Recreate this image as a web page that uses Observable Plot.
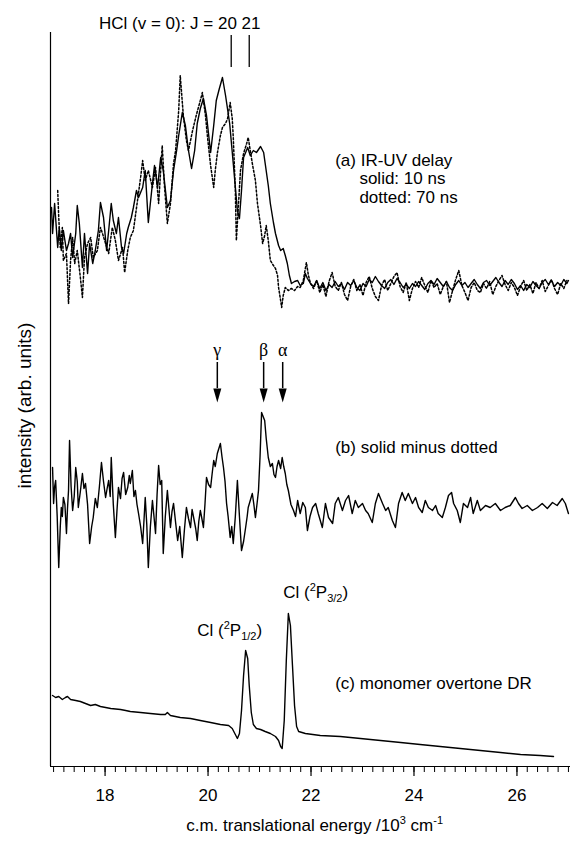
<!DOCTYPE html>
<html><head><meta charset="utf-8">
<script src="https://cdn.jsdelivr.net/npm/d3@7"></script>
<script src="https://cdn.jsdelivr.net/npm/@observablehq/plot@0.6"></script>
<style>body{margin:0;background:#fff}</style>
</head><body><div id="chart"></div>
<script>
// x: c.m. translational energy (10^3 cm^-1); y: intensity (arb. units), traces stacked
const solid10ns = [
[16.96,559],[16.98,533],[17.02,563],[17.08,519],[17.11,539],[17.15,516],[17.19,536],[17.25,516],[17.29,523],[17.33,533],[17.37,509],[17.43,533],[17.46,561],[17.50,543],[17.56,499],[17.60,533],[17.66,493],[17.70,523],[17.76,503],[17.81,516],[17.87,536],[17.91,564],[17.97,549],[18.03,516],[18.07,536],[18.12,563],[18.16,546],[18.22,533],[18.26,549],[18.32,519],[18.36,513],[18.42,533],[18.45,539],[18.51,549],[18.55,559],[18.61,576],[18.65,569],[18.73,579],[18.78,596],[18.84,544],[18.92,583],[18.96,601],[19.02,579],[19.08,609],[19.13,596],[19.21,559],[19.27,566],[19.33,596],[19.39,616],[19.43,631],[19.50,654],[19.56,641],[19.62,616],[19.68,598],[19.74,616],[19.79,643],[19.85,658],[19.91,668],[19.97,651],[20.05,614],[20.11,641],[20.16,666],[20.22,678],[20.28,689],[20.34,671],[20.42,643],[20.49,603],[20.57,556],[20.61,548],[20.65,576],[20.69,609],[20.77,619],[20.82,611],[20.88,616],[20.94,614],[21.02,620],[21.08,614],[21.11,603],[21.17,581],[21.21,563],[21.27,544],[21.31,533],[21.37,521],[21.41,516],[21.46,518],[21.50,511],[21.54,503],[21.58,491],[21.62,483],[21.68,485],[21.74,486],[21.79,481],[21.85,483],[21.89,493],[21.93,488],[21.99,483],
[22.05,480],[22.11,486],[22.17,478],[22.23,484],[22.29,476],[22.35,482],[22.41,479],[22.47,485],[22.53,480],[22.59,483],[22.65,477],[22.71,484],[22.77,481],[22.83,486],[22.89,479],[22.95,476],[23.01,483],[23.07,480],[23.13,487],[23.19,484],[23.25,490],[23.31,485],[23.37,481],[23.43,478],[23.49,484],[23.55,487],[23.61,482],[23.67,488],[23.73,484],[23.79,479],[23.85,482],[23.91,478],[23.97,483],[24.03,480],[24.09,485],[24.15,481],[24.21,477],[24.27,483],[24.33,486],[24.39,482],[24.45,488],[24.51,484],[24.57,480],[24.63,485],[24.69,479],[24.75,476],[24.81,482],[24.87,486],[24.93,481],[24.99,484],[25.05,479],[25.11,483],[25.17,487],[25.23,482],[25.29,478],[25.35,484],[25.41,486],[25.47,481],[25.53,485],[25.59,489],[25.65,484],[25.71,480],[25.77,486],[25.83,482],[25.89,487],[25.95,483],[26.01,477],[26.07,481],[26.13,476],[26.19,482],[26.25,479],[26.31,485],[26.37,481],[26.43,478],[26.49,484],[26.55,487],[26.61,482],[26.67,486],[26.73,480],[26.79,484],[26.85,481],[26.91,487],[26.97,483],[27.00,486]
];
const dotted70ns = [
[17.08,576],[17.10,549],[17.13,519],[17.17,539],[17.19,506],[17.25,513],[17.29,463],[17.33,506],[17.37,529],[17.41,503],[17.46,516],[17.52,489],[17.56,469],[17.60,509],[17.66,523],[17.72,529],[17.77,509],[17.85,516],[17.91,539],[17.95,533],[18.01,523],[18.07,513],[18.14,539],[18.20,526],[18.26,506],[18.34,519],[18.38,494],[18.44,516],[18.49,529],[18.55,536],[18.63,566],[18.69,589],[18.73,606],[18.78,586],[18.84,596],[18.92,579],[18.98,599],[19.04,563],[19.11,621],[19.15,583],[19.21,543],[19.27,563],[19.33,603],[19.37,616],[19.43,656],[19.46,691],[19.52,651],[19.58,626],[19.62,616],[19.70,636],[19.77,651],[19.85,666],[19.89,674],[19.95,651],[19.99,629],[20.05,601],[20.11,579],[20.14,596],[20.18,613],[20.24,631],[20.28,639],[20.34,643],[20.38,648],[20.43,664],[20.47,648],[20.49,629],[20.53,576],[20.55,526],[20.59,561],[20.63,596],[20.69,613],[20.75,623],[20.78,629],[20.82,616],[20.86,603],[20.92,586],[20.96,563],[21.02,541],[21.06,523],[21.10,531],[21.13,541],[21.17,526],[21.21,506],[21.27,501],[21.31,498],[21.35,491],[21.37,479],[21.41,466],[21.43,459],[21.46,471],[21.50,479],[21.56,476],[21.62,478],[21.68,476],[21.74,480],[21.79,479],[21.85,486],[21.89,498],[21.91,504],[21.95,491],[21.99,483],
[22.05,478],[22.11,486],[22.17,474],[22.23,482],[22.29,470],[22.35,485],[22.41,494],[22.47,480],[22.53,476],[22.59,484],[22.65,472],[22.71,466],[22.77,480],[22.83,487],[22.89,476],[22.95,482],[23.01,471],[23.07,484],[23.13,490],[23.19,478],[23.25,470],[23.31,466],[23.37,481],[23.43,487],[23.49,476],[23.55,483],[23.61,490],[23.67,494],[23.73,480],[23.79,474],[23.85,484],[23.91,466],[23.97,478],[24.03,485],[24.09,479],[24.15,489],[24.21,481],[24.27,474],[24.33,486],[24.39,479],[24.45,483],[24.51,472],[24.57,480],[24.63,485],[24.69,464],[24.75,476],[24.81,487],[24.87,496],[24.93,481],[24.99,474],[25.05,466],[25.11,479],[25.17,484],[25.23,476],[25.29,474],[25.35,483],[25.41,478],[25.47,485],[25.53,472],[25.59,480],[25.65,486],[25.71,491],[25.77,482],[25.83,476],[25.89,484],[25.95,479],[26.01,471],[26.07,480],[26.13,486],[26.19,476],[26.25,482],[26.31,473],[26.37,484],[26.43,478],[26.49,486],[26.55,475],[26.61,481],[26.67,487],[26.73,478],[26.79,472],[26.85,483],[26.91,478],[26.97,486]
];
const solidMinusDotted = [
[16.98,299],[17.00,263],[17.02,280],[17.04,286],[17.07,250],[17.10,199],[17.13,240],[17.15,259],[17.17,250],[17.19,269],[17.22,262],[17.25,233],[17.27,258],[17.29,276],[17.31,326],[17.34,280],[17.37,256],[17.40,270],[17.43,299],[17.46,285],[17.48,259],[17.52,275],[17.56,293],[17.59,278],[17.62,283],[17.66,262],[17.70,223],[17.74,240],[17.77,249],[17.81,268],[17.85,259],[17.89,280],[17.93,304],[17.97,285],[18.01,269],[18.04,278],[18.07,286],[18.10,270],[18.12,309],[18.16,262],[18.20,229],[18.23,255],[18.26,279],[18.30,268],[18.33,288],[18.36,294],[18.40,272],[18.44,279],[18.47,291],[18.49,283],[18.53,296],[18.56,270],[18.59,276],[18.62,262],[18.65,253],[18.69,240],[18.73,223],[18.76,250],[18.78,269],[18.81,242],[18.84,199],[18.88,240],[18.92,266],[18.95,250],[18.98,233],[19.01,272],[19.04,301],[19.07,282],[19.10,286],[19.13,213],[19.17,250],[19.21,276],[19.24,258],[19.27,239],[19.30,255],[19.33,263],[19.37,244],[19.41,226],[19.45,240],[19.50,209],[19.54,236],[19.58,259],[19.62,248],[19.66,239],[19.69,257],[19.72,249],[19.76,238],[19.79,226],[19.82,245],[19.85,256],[19.88,248],[19.91,239],[19.94,262],[19.97,289],[20.01,282],[20.05,279],[20.08,293],[20.11,306],[20.14,300],[20.18,313],[20.21,318],[20.24,323],[20.27,310],[20.30,299],[20.33,285],[20.36,263],[20.39,250],[20.43,229],[20.46,240],[20.49,223],[20.53,250],[20.57,286],[20.61,250],[20.65,216],[20.69,225],[20.73,239],[20.76,250],[20.78,259],[20.82,266],[20.86,273],[20.89,262],[20.92,249],[20.95,262],[20.98,276],[21.01,310],[21.04,354],[21.07,350],[21.10,346],[21.13,328],[21.17,309],[21.21,300],[21.25,303],[21.28,292],[21.31,289],[21.34,300],[21.37,306],[21.41,298],[21.44,309],[21.47,300],[21.50,293],[21.53,282],[21.56,276],[21.61,262],[21.66,256],[21.70,250],[21.74,266],[21.77,258],[21.79,253],[21.84,264],[21.89,259],[21.93,236],[21.98,250],[22.03,259],[22.09,263],[22.14,253],[22.22,239],[22.28,263],[22.34,249],[22.42,243],[22.47,263],[22.53,269],[22.61,256],[22.67,266],[22.73,271],[22.80,253],[22.86,266],[22.92,259],[23.00,263],[23.06,256],[23.11,253],[23.19,244],[23.25,263],[23.31,273],[23.39,263],[23.45,256],[23.50,259],[23.58,246],[23.64,239],[23.70,263],[23.77,274],[23.83,266],[23.89,273],[23.97,263],[24.03,269],[24.09,259],[24.16,254],[24.22,266],[24.28,259],[24.36,256],[24.42,261],[24.47,253],[24.55,249],[24.61,259],[24.67,271],[24.73,274],[24.77,263],[24.84,256],[24.90,244],[24.96,263],[25.04,259],[25.10,269],[25.15,253],[25.23,266],[25.29,256],[25.39,261],[25.48,259],[25.58,263],[25.68,256],[25.77,259],[25.87,261],[25.97,269],[26.03,263],[26.10,258],[26.20,261],[26.30,256],[26.40,259],[26.49,263],[26.59,258],[26.69,264],[26.78,261],[26.88,268],[26.94,263],[27.00,253]
];
const monomerDR = [
[16.98,71],[17.04,69],[17.10,70],[17.17,67],[17.23,69],[17.27,70],[17.33,67],[17.43,66],[17.52,65],[17.62,63],[17.72,61],[17.81,62],[17.91,60],[18.11,58],[18.30,57],[18.40,56],[18.49,55],[18.69,54],[18.88,53],[19.08,52],[19.17,52],[19.21,54],[19.27,51],[19.46,49],[19.66,48],[19.85,46],[20.05,44],[20.24,42],[20.40,41],[20.47,38],[20.53,32],[20.57,28],[20.61,33],[20.65,56],[20.69,91],[20.73,116],[20.77,108],[20.80,81],[20.84,54],[20.88,42],[20.94,38],[21.02,37],[21.11,35],[21.21,33],[21.31,30],[21.37,26],[21.41,20],[21.44,18],[21.48,46],[21.52,106],[21.56,153],[21.60,141],[21.64,101],[21.68,61],[21.72,40],[21.76,35],[21.89,33],[22.18,31],[22.57,30],[22.96,28],[23.35,26],[23.74,24],[24.12,22],[24.51,20],[24.90,18],[25.29,16],[25.68,14],[26.07,12],[26.45,11],[26.71,10]
];
const hclLines = [20.45, 20.80];           // J = 20, 21
const arrowLabels = ["γ", "β", "α"];
const arrowPositions = [20.18, 21.08, 21.45];
const majorTicks = [18, 20, 22, 24, 26];
const minorStep = 0.2;
const xDomain = [16.94, 27.04];
const yDomain = [0, 766];

const titleLabel = [{x: 19.45, y: 743, text: "HCl (v = 0): J = 20 21"}];
const textLabels = [
  {x: 22.47, y: 606, text: "(a) IR-UV delay"},
  {x: 22.94, y: 588, text: "solid: 10 ns"},
  {x: 22.94, y: 569, text: "dotted: 70 ns"},
  {x: 22.47, y: 319, text: "(b) solid minus dotted"},
  {x: 22.47, y: 83, text: "(c) monomer overtone DR"},
  {x: 19.79, y: 136, text: "Cl (2P1/2)"},
  {x: 21.46, y: 174, text: "Cl (2P3/2)"}
];

const minorTicks = d3.range(17, 27.0001, minorStep).map(v => +v.toFixed(1));
const arrowData = arrowLabels.map((t, i) => ({t, x: arrowPositions[i]}));
const headSymbol = {draw(ctx) { ctx.moveTo(-4, -7); ctx.lineTo(4, -7); ctx.lineTo(0, 7); ctx.closePath(); }};
const font = "'Liberation Sans', Arial, sans-serif";

const chart = Plot.plot({
  width: 570, height: 841,
  marginLeft: 50, marginRight: 0, marginTop: 0, marginBottom: 75,
  style: {fontFamily: font, fontSize: "17px", color: "black", background: "white", overflow: "visible"},
  x: {domain: xDomain, label: null},
  y: {domain: yDomain, axis: null},
  marks: [
    Plot.ruleY([yDomain[0]], {stroke: "black", strokeWidth: 1.2}),
    Plot.ruleX([xDomain[0]], {y1: 0, y2: 734, stroke: "black", strokeWidth: 1.2}),
    Plot.axisX({ticks: minorTicks, tickSize: 6, tickFormat: () => "", strokeWidth: 1}),
    Plot.axisX({ticks: majorTicks, tickSize: 10, tickPadding: 12, fontSize: 17, tickFormat: d => String(d), strokeWidth: 1.2}),
    Plot.text([0], {x: () => 22.07, frameAnchor: "bottom", dy: 64, text: () => "c.m. translational energy /103 cm-1", fontSize: 17}),
    Plot.text([0], {y: () => 361, frameAnchor: "left", dx: -26, rotate: -90, textAnchor: "middle", text: () => "intensity (arb. units)", fontSize: 19}),
    Plot.line(dotted70ns, {x: "0", y: "1", stroke: "black", strokeWidth: 1.5, strokeDasharray: "2,2"}),
    Plot.line(solid10ns, {x: "0", y: "1", stroke: "black", strokeWidth: 1.4}),
    Plot.line(solidMinusDotted, {x: "0", y: "1", stroke: "black", strokeWidth: 1.4}),
    Plot.line(monomerDR, {x: "0", y: "1", stroke: "black", strokeWidth: 1.4}),
    Plot.ruleX(hclLines, {y1: 699, y2: 731, stroke: "black", strokeWidth: 1.3}),
    Plot.ruleX(arrowData, {x: "x", y1: 378, y2: 404, stroke: "black", strokeWidth: 1.5}),
    Plot.dot(arrowData, {x: "x", y: () => 371, symbol: headSymbol, fill: "black", stroke: "none"}),
    Plot.text(arrowData, {x: "x", y: () => 416, text: "t", fontSize: 18, fontFamily: "'Liberation Serif', 'Times New Roman', serif"}),
    Plot.text(titleLabel, {x: "x", y: "y", text: "text", textAnchor: "middle", fontSize: 17}),
    Plot.text(textLabels, {x: "x", y: "y", text: "text", textAnchor: "start", fontSize: 17})
  ]
});
document.getElementById("chart").appendChild(chart);

function richText(plain, parts) {
  d3.select(chart).selectAll("text").filter(function() { return this.textContent === plain; }).each(function() {
    const el = d3.select(this); el.text(null);
    let cur = 0;
    for (const p of parts) {
      const rise = p.rise || 0;
      const ts = el.append("tspan").attr("dy", cur - rise).text(p.t);
      if (p.size) ts.attr("font-size", p.size);
      cur = rise;
    }
  });
}
richText("Cl (2P1/2)", [{t: "Cl ("}, {t: "2", rise: 7, size: 11}, {t: "P"}, {t: "1/2", rise: -4, size: 11}, {t: ")"}]);
richText("Cl (2P3/2)", [{t: "Cl ("}, {t: "2", rise: 7, size: 11}, {t: "P"}, {t: "3/2", rise: -4, size: 11}, {t: ")"}]);
richText("c.m. translational energy /103 cm-1", [{t: "c.m. translational energy /10"}, {t: "3", rise: 7, size: 11}, {t: " cm"}, {t: "-1", rise: 7, size: 11}]);
</script>
</body></html>
